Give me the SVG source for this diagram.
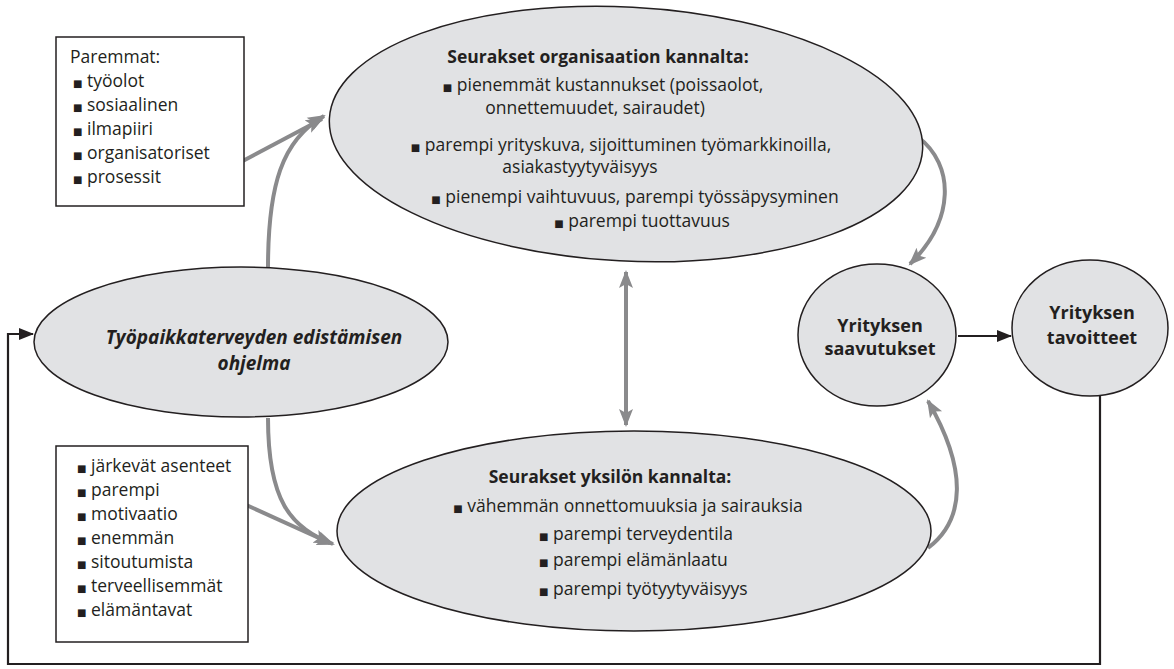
<svg xmlns="http://www.w3.org/2000/svg" width="1174" height="669" viewBox="0 0 1174 669">
<defs>
<style>
.t{font-family:"Open Sans","Noto Sans","Liberation Sans",sans-serif;font-size:17.5px;fill:#231f20}
.b{font-weight:bold}
.bi{font-weight:bold;font-style:italic;font-size:19px}
.c{font-weight:bold;font-size:18px}
.m{text-anchor:middle}
.bl{font-family:"DejaVu Sans",sans-serif;font-size:10px}
.node{fill:#e1e2e4;stroke:#231f20;stroke-width:1.5}
.box{fill:#fff;stroke:#231f20;stroke-width:1.5}
.g{fill:none;stroke:#8a8a8c;stroke-width:4}
.k{fill:none;stroke:#231f20;stroke-width:2.2}
</style>
<marker id="ga" markerUnits="userSpaceOnUse" markerWidth="20" markerHeight="16" refX="16" refY="7" orient="auto-start-reverse" viewBox="0 0 20 14">
<path d="M0,0 L18,7 L0,14 L4,7 Z" fill="#8a8a8c"/>
</marker>
<marker id="ka" markerUnits="userSpaceOnUse" markerWidth="16" markerHeight="14" refX="14" refY="6" orient="auto" viewBox="0 0 16 12">
<path d="M0,0 L15,6 L0,12 Z" fill="#231f20"/>
</marker>
</defs>
<rect width="1174" height="669" fill="#fff"/>

<g id="connectors">
<path class="g" d="M268,268 C268,185 282,140 324,116" marker-end="url(#ga)"/>
<path class="g" d="M239,163 L322,119" marker-end="url(#ga)"/>
<path class="g" d="M268,418 C268,500 290,528 333,544" marker-end="url(#ga)"/>
<path class="g" d="M242,503 L330,543" marker-end="url(#ga)"/>
<path class="g" d="M626,272 L626,425" marker-start="url(#ga)" marker-end="url(#ga)"/>
<path class="g" d="M918,137 C955,165 955,220 910,264" marker-end="url(#ga)"/>
<path class="g" d="M928,548 C965,520 968,470 928,401" marker-end="url(#ga)"/>
<path class="k" d="M958,336 L1011,336" marker-end="url(#ka)"/>
<path class="k" d="M1100,396 L1100,664 L8,664 L8,334 L33,334" marker-end="url(#ka)"/>
</g>

<g id="box-paremmat">
<rect class="box" x="56" y="37" width="188" height="169"/>
<text class="t" x="70" y="63">Paremmat:</text>
<text class="t" x="73" y="87"><tspan class="bl">■</tspan>  työolot</text>
<text class="t" x="73" y="111"><tspan class="bl">■</tspan>  sosiaalinen</text>
<text class="t" x="73" y="135"><tspan class="bl">■</tspan>  ilmapiiri</text>
<text class="t" x="73" y="159"><tspan class="bl">■</tspan> organisatoriset</text>
<text class="t" x="73" y="183"><tspan class="bl">■</tspan> prosessit</text>
</g>

<g id="box-asenteet">
<rect class="box" x="56" y="446" width="192" height="196"/>
<text class="t" x="77" y="472"><tspan class="bl">■</tspan> järkevät asenteet</text>
<text class="t" x="77" y="496"><tspan class="bl">■</tspan> parempi</text>
<text class="t" x="77" y="520"><tspan class="bl">■</tspan> motivaatio</text>
<text class="t" x="77" y="544"><tspan class="bl">■</tspan> enemmän</text>
<text class="t" x="77" y="568"><tspan class="bl">■</tspan> sitoutumista</text>
<text class="t" x="77" y="592"><tspan class="bl">■</tspan> terveellisemmät</text>
<text class="t" x="77" y="616"><tspan class="bl">■</tspan> elämäntavat</text>
</g>

<g id="node-organisaatio">
<ellipse class="node" cx="626" cy="134" rx="297" ry="127" transform="rotate(3 626 134)"/>
<text class="t b m" x="598" y="63">Seurakset organisaation kannalta:</text>
<text class="t m" x="603" y="91"><tspan class="bl">■</tspan> pienemmät kustannukset (poissaolot,</text>
<text class="t m" x="595" y="114">onnettemuudet, sairaudet)</text>
<text class="t m" x="621" y="151"><tspan class="bl">■</tspan> parempi yrityskuva, sijoittuminen työmarkkinoilla,</text>
<text class="t m" x="580" y="173">asiakastyytyväisyys</text>
<text class="t m" x="635" y="203"><tspan class="bl">■</tspan> pienempi vaihtuvuus, parempi työssäpysyminen</text>
<text class="t m" x="642" y="227"><tspan class="bl">■</tspan> parempi tuottavuus</text>
</g>

<g id="node-ohjelma">
<ellipse class="node" cx="241" cy="342" rx="207" ry="75"/>
<text class="t bi m" x="254" y="344">Työpaikkaterveyden edistämisen</text>
<text class="t bi m" x="254" y="370">ohjelma</text>
</g>

<g id="node-yksilo">
<ellipse class="node" cx="634" cy="531" rx="297" ry="100"/>
<text class="t b m" x="610" y="483">Seurakset yksilön kannalta:</text>
<text class="t m" x="628" y="512"><tspan class="bl">■</tspan> vähemmän onnettomuuksia ja sairauksia</text>
<text class="t" x="539" y="540"><tspan class="bl">■</tspan> parempi terveydentila</text>
<text class="t" x="539" y="566"><tspan class="bl">■</tspan> parempi elämänlaatu</text>
<text class="t" x="539" y="595"><tspan class="bl">■</tspan> parempi työtyytyväisyys</text>
</g>

<g id="node-saavutukset">
<ellipse class="node" cx="877" cy="335" rx="79" ry="71"/>
<text class="t c m" x="880" y="332">Yrityksen</text>
<text class="t c m" x="880" y="355">saavutukset</text>
</g>

<g id="node-tavoitteet">
<ellipse class="node" cx="1090" cy="328" rx="78" ry="68"/>
<text class="t c m" x="1092" y="319">Yrityksen</text>
<text class="t c m" x="1092" y="344">tavoitteet</text>
</g>
</svg>
